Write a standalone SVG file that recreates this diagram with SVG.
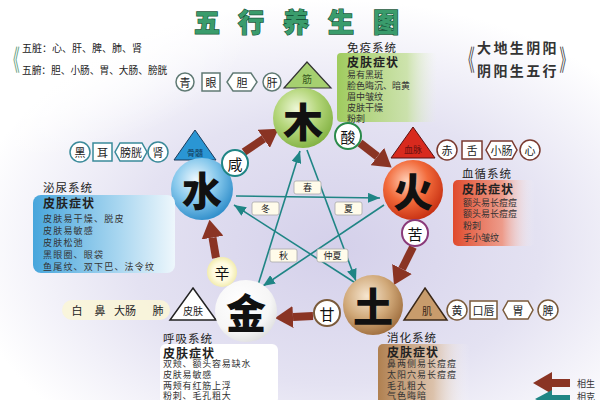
<svg xmlns="http://www.w3.org/2000/svg" width="600" height="400" viewBox="0 0 600 400">
<defs>
<radialGradient id="bg" cx="0.56" cy="0.62" r="0.62">
<stop offset="0" stop-color="#d4d0ea"/><stop offset="0.55" stop-color="#e4e2f2"/><stop offset="1" stop-color="#ffffff"/>
</radialGradient>
<radialGradient id="gMu" cx="0.4" cy="0.35" r="0.7"><stop offset="0" stop-color="#eef7d8"/><stop offset="0.5" stop-color="#b4d67a"/><stop offset="1" stop-color="#80b040"/></radialGradient>
<radialGradient id="gHuo" cx="0.4" cy="0.35" r="0.7"><stop offset="0" stop-color="#ffd0b8"/><stop offset="0.5" stop-color="#f26a3a"/><stop offset="1" stop-color="#c42c10"/></radialGradient>
<radialGradient id="gTu" cx="0.4" cy="0.35" r="0.7"><stop offset="0" stop-color="#f6e6d0"/><stop offset="0.55" stop-color="#d0a878"/><stop offset="1" stop-color="#9c6a3a"/></radialGradient>
<radialGradient id="gJin" cx="0.4" cy="0.35" r="0.7"><stop offset="0" stop-color="#ffffff"/><stop offset="0.7" stop-color="#f6f6f6"/><stop offset="1" stop-color="#dedede"/></radialGradient>
<radialGradient id="gShui" cx="0.4" cy="0.35" r="0.7"><stop offset="0" stop-color="#eef8fe"/><stop offset="0.5" stop-color="#86c8ec"/><stop offset="1" stop-color="#2a8ac8"/></radialGradient>
<radialGradient id="gXin" cx="0.5" cy="0.5" r="0.5"><stop offset="0.6" stop-color="#fffbe0"/><stop offset="1" stop-color="#f2ecb0"/></radialGradient>
<radialGradient id="wTL" cx="0" cy="0" r="1"><stop offset="0" stop-color="#fff"/><stop offset="0.6" stop-color="#fff" stop-opacity="0.8"/><stop offset="1" stop-color="#fff" stop-opacity="0"/></radialGradient>
<linearGradient id="bMu" x1="0" x2="1"><stop offset="0" stop-color="#9fcb5e"/><stop offset="0.7" stop-color="#c4e09a" stop-opacity="0.8"/><stop offset="1" stop-color="#e8f2d8" stop-opacity="0"/></linearGradient>
<linearGradient id="bHuo" x1="0" x2="1"><stop offset="0" stop-color="#e04a2c"/><stop offset="0.6" stop-color="#f08a70" stop-opacity="0.8"/><stop offset="1" stop-color="#ffffff" stop-opacity="0"/></linearGradient>
<linearGradient id="bShui" x1="0" x2="1"><stop offset="0" stop-color="#48a6dc"/><stop offset="0.6" stop-color="#a8d6f0"/><stop offset="1" stop-color="#eef7fc"/></linearGradient>
<linearGradient id="bTu" x1="0" x2="1"><stop offset="0" stop-color="#b08050"/><stop offset="0.6" stop-color="#d8b898" stop-opacity="0.8"/><stop offset="1" stop-color="#ffffff" stop-opacity="0"/></linearGradient>
<marker id="mB" markerUnits="userSpaceOnUse" viewBox="0 0 18 22" markerWidth="18" markerHeight="22" refX="0" refY="11" orient="auto"><path d="M0,0 L18,11 L0,22 z" fill="#8a3424"/></marker>
<marker id="mT" markerUnits="userSpaceOnUse" viewBox="0 0 12 10" markerWidth="12" markerHeight="10" refX="12" refY="5" orient="auto"><path d="M0,0 L12,5 L0,10 z" fill="#1f8585"/></marker>
<style>
text{font-family:'Noto Sans CJK SC','Noto Sans CJK TC',sans-serif;dominant-baseline:central}
.big{font-size:40px;font-weight:900;text-anchor:middle;fill:#111}
.c{text-anchor:middle}
.lb{font-size:11px;text-anchor:middle;fill:#222}
.sys{font-size:11.5px;fill:#222}
.hd{font-size:12px;font-weight:700;fill:#222}
.dt{font-size:9px;fill:#333}
.season rect{fill:#fffbea;stroke:#aaa;stroke-width:0.8}
.season text{font-size:9px;text-anchor:middle;fill:#222}
.sg{fill:none;stroke:#8a3424;stroke-width:8;marker-end:url(#mB)}
.kc{fill:none;stroke:#1f8585;stroke-width:1.6;marker-end:url(#mT)}
.taste{fill:#fff;stroke-width:2}
</style>
</defs>
<rect width="600" height="400" fill="#fff"/>
<rect width="600" height="400" fill="url(#bg)"/>
<rect x="0" y="0" width="260" height="160" fill="url(#wTL)"/>

<g id="title">
<text x="207 251 296 341 386" y="20" class="c" font-size="26" font-weight="900" fill="#3a9c6c" stroke="#17573a" stroke-width="1.3" paint-order="stroke">五行养生图</text>
</g>
<g id="note-left">
<text x="13" y="58" font-size="22" class="c" fill="#5a9a7a" transform="translate(13 58) scale(0.6 1.3) translate(-13 -58)">《</text>
<text x="22" y="47" font-size="10" fill="#222">五脏：心、肝、脾、肺、肾</text>
<text x="22" y="70" font-size="9.7" fill="#222">五腑：胆、小肠、胃、大肠、膀胱</text>
</g>
<g id="note-right">
<text x="468" y="58" font-size="22" class="c" fill="#444" transform="translate(468 58) scale(0.6 1.3) translate(-468 -58)">《</text>
<text x="477" y="47" font-size="14" font-weight="700" fill="#333" letter-spacing="2.4">大地生阴阳</text>
<text x="477" y="70" font-size="14" font-weight="700" fill="#333" letter-spacing="2.4">阴阳生五行</text>
<text x="566" y="58" font-size="22" class="c" fill="#444" transform="translate(566 58) scale(0.6 1.3) translate(-566 -58)">》</text>
</g>

<g id="connectors">
<path class="kc" d="M236,196 L380,198"/>
<path class="kc" d="M384,205 L263,286"/>
<path class="kc" d="M258,285 L300,151"/>
<path class="kc" d="M307,150 L356,281"/>
<path class="kc" d="M357,284 L234,205"/>
<path class="sg" d="M244,152 L263.7,138.8"/>
<path class="sg" d="M360,143 L377.4,156.5"/>
<path class="sg" d="M413,247 L402,269"/>
<path class="sg" d="M313,316 L293,317"/>
<path class="sg" d="M216,258 L212.5,237.6"/>
</g>

<g id="seasons" class="season">
<rect x="294" y="181" width="27" height="13" rx="2"/><text x="307.5" y="187.5">春</text>
<rect x="252" y="202" width="27" height="13" rx="2"/><text x="265.5" y="208.5">冬</text>
<rect x="335" y="202" width="27" height="13" rx="2"/><text x="348.5" y="208.5">夏</text>
<rect x="270" y="249" width="27" height="13" rx="2"/><text x="283.5" y="255.5">秋</text>
<rect x="317" y="249" width="31" height="13" rx="2"/><text x="332.5" y="255.5">仲夏</text>
</g>

<g id="node-mu">
<path d="M307,62 L331,88 L284,88 Z" fill="#a6d070" stroke="#333" stroke-width="1.2"/>
<text x="307" y="78" font-size="10" class="c" fill="#3a5a20">筋</text>
<circle cx="303" cy="118" r="30" fill="url(#gMu)"/>
<text x="303" y="120" class="big">木</text>
<g stroke="#607a74" stroke-width="1.5" fill="#fff">
<circle cx="185" cy="82" r="9"/>
<rect x="202" y="73" width="18" height="18"/>
<path d="M233,73 L251,73 L257,82 L251,91 L233,91 L227,82 Z"/>
<circle cx="272" cy="82" r="9"/>
</g>
<text x="185" y="82" class="lb">青</text><text x="211" y="82" class="lb">眼</text><text x="242" y="82" class="lb">胆</text><text x="272" y="82" class="lb">肝</text>
<rect x="337" y="53" width="100" height="69" rx="4" fill="url(#bMu)"/>
<text x="347" y="47" class="sys" letter-spacing="1">免疫系统</text>
<text x="347" y="61" class="hd" letter-spacing="1">皮肤症状</text>
<text x="347" y="74" class="dt">易有黑斑</text>
<text x="347" y="85" class="dt">脸色晦沉、暗黄</text>
<text x="347" y="96" class="dt">眉中皱纹</text>
<text x="347" y="107" class="dt">皮肤干燥</text>
<text x="347" y="118" class="dt">粉刺</text>
<circle cx="348" cy="136" r="13" class="taste" stroke="#2a8a4a"/>
<text x="348" y="136" font-size="15" class="c" fill="#111">酸</text>
</g>

<g id="node-huo">
<path d="M413,127 L435,158 L391,158 Z" fill="#d82a1e" stroke="#5a1010" stroke-width="1"/>
<text x="413" y="149" font-size="9" class="c" fill="#6a1010">血脉</text>
<circle cx="413" cy="190" r="30" fill="url(#gHuo)"/>
<text x="413" y="190" class="big">火</text>
<g stroke="#7a3a30" stroke-width="1.5" fill="#fff">
<circle cx="447" cy="150" r="10"/>
<rect x="462" y="141" width="20" height="18"/>
<path d="M491,141 L512,141 L517,150 L512,159 L491,159 L486,150 Z"/>
<circle cx="530" cy="150" r="10"/>
</g>
<text x="447" y="150" class="lb">赤</text><text x="472" y="150" class="lb">舌</text><text x="501.5" y="150" class="lb">小肠</text><text x="530" y="150" class="lb">心</text>
<rect x="453" y="180" width="82" height="66" rx="5" fill="url(#bHuo)"/>
<text x="462" y="173" class="sys" letter-spacing="1">血循系统</text>
<text x="462" y="188" class="hd" letter-spacing="1">皮肤症状</text>
<text x="463" y="202" class="dt" fill="#7a2a20">额头易长痘痘</text>
<text x="463" y="213" class="dt" fill="#7a2a20">额头易长痘痘</text>
<text x="463" y="225" class="dt" fill="#7a2a20">粉刺</text>
<text x="463" y="237" class="dt" fill="#7a2a20">手小皱纹</text>
<circle cx="415" cy="233" r="13" class="taste" stroke="#8a3a7a"/>
<text x="415" y="233" font-size="15" class="c" fill="#111">苦</text>
</g>

<g id="node-shui">
<path d="M195,130 L216,160 L174,160 Z" fill="#2a96d4" stroke="#1a3a5a" stroke-width="1"/>
<text x="195" y="152" font-size="8" class="c" fill="#123a5a">骨髓</text>
<circle cx="202" cy="189" r="31" fill="url(#gShui)"/>
<text x="202" y="189" class="big">水</text>
<g stroke="#3a8a9a" stroke-width="1.5" fill="#fff">
<circle cx="80" cy="152" r="10"/>
<rect x="93" y="143" width="19" height="18"/>
<path d="M120,143 L142,143 L147,152 L142,161 L120,161 L115,152 Z"/>
<circle cx="158" cy="152" r="10"/>
</g>
<text x="80" y="152" class="lb">黑</text><text x="102.5" y="152" class="lb">耳</text><text x="131" y="152" class="lb">膀胱</text><text x="158" y="152" class="lb">肾</text>
<rect x="33" y="195" width="142" height="78" rx="8" fill="url(#bShui)"/>
<text x="43" y="187" class="sys" letter-spacing="1">泌尿系统</text>
<text x="43" y="202" class="hd" letter-spacing="1">皮肤症状</text>
<text x="43" y="218" class="dt" letter-spacing="1.2">皮肤易干燥、脱皮</text>
<text x="43" y="230" class="dt" letter-spacing="1.2">皮肤易敏感</text>
<text x="43" y="242" class="dt" letter-spacing="1.2">皮肤松弛</text>
<text x="43" y="254" class="dt" letter-spacing="1.2">黑眼圈、眼袋</text>
<text x="43" y="266" class="dt" letter-spacing="1.2">鱼尾纹、双下巴、法令纹</text>
<circle cx="235" cy="163" r="13" class="taste" stroke="#1f8585"/>
<text x="235" y="163" font-size="15" class="c" fill="#111">咸</text>
</g>

<g id="node-jin">
<path d="M193,288 L216,320 L170,320 Z" fill="#fff" stroke="#222" stroke-width="1.5"/>
<text x="193" y="310" font-size="10" class="c" fill="#222">皮肤</text>
<circle cx="246" cy="311" r="31" fill="url(#gJin)"/>
<text x="246" y="311" class="big">金</text>
<rect x="62" y="300" width="108" height="20" rx="10" fill="#faf5d8" opacity="0.9"/>
<text x="77" y="310" class="lb">白</text><text x="100" y="310" class="lb">鼻</text><text x="125" y="310" class="lb">大肠</text><text x="158" y="310" class="lb">肺</text>
<rect x="160" y="344" width="118" height="60" rx="6" fill="#fff"/>
<text x="163" y="338" class="sys" letter-spacing="1">呼吸系统</text>
<text x="163" y="352" class="hd" letter-spacing="1">皮肤症状</text>
<text x="163" y="363" class="dt" letter-spacing="0.8">双颊、额头容易缺水</text>
<text x="163" y="374" class="dt" letter-spacing="0.8">皮肤易敏感</text>
<text x="163" y="385" class="dt" letter-spacing="0.8">两颊有红筋上浮</text>
<text x="163" y="395" class="dt" letter-spacing="0.8">粉刺、毛孔粗大</text>
<circle cx="222" cy="272" r="15" fill="url(#gXin)"/>
<text x="222" y="272" font-size="15" class="c" fill="#111">辛</text>
</g>

<g id="node-tu">
<path d="M425,288 L447,320 L404,320 Z" fill="#c89c6c" stroke="#3a2818" stroke-width="1.5"/>
<text x="427" y="310" font-size="10" class="c" fill="#3a2818">肌</text>
<circle cx="373" cy="305" r="30" fill="url(#gTu)"/>
<text x="373" y="305" class="big">土</text>
<g stroke="#7a5a3a" stroke-width="1.5" fill="#fff">
<circle cx="457" cy="310" r="10"/>
<rect x="470" y="301" width="27" height="18"/>
<path d="M508,301 L528,301 L533,310 L528,319 L508,319 L503,310 Z"/>
<circle cx="548" cy="310" r="10"/>
</g>
<text x="457" y="310" class="lb">黄</text><text x="483.5" y="310" class="lb">口唇</text><text x="518" y="310" class="lb">胃</text><text x="548" y="310" class="lb">脾</text>
<rect x="378" y="344" width="92" height="60" rx="5" fill="url(#bTu)"/>
<text x="387" y="337" class="sys" letter-spacing="1">消化系统</text>
<text x="387" y="351" class="hd" letter-spacing="1">皮肤症状</text>
<text x="387" y="363" class="dt" letter-spacing="1">鼻两侧易长痘痘</text>
<text x="387" y="374" class="dt" letter-spacing="1">太阳穴易长痘痘</text>
<text x="387" y="385" class="dt" letter-spacing="1">毛孔粗大</text>
<text x="387" y="395" class="dt" letter-spacing="1">气色晦暗</text>
<circle cx="327" cy="313" r="13" class="taste" stroke="#7a5a3a"/>
<text x="327" y="313" font-size="15" class="c" fill="#111">甘</text>
</g>

<g id="legend">
<path d="M570,383 L552,383" stroke="#8a3424" stroke-width="8" fill="none"/>
<path d="M552,372 L533,383 L552,394 Z" fill="#8a3424"/>
<text x="577" y="383" font-size="9" fill="#333">相生</text>
<path d="M570,399 L552,399" stroke="#1f8585" stroke-width="8" fill="none"/>
<path d="M552,390 L535,399 L552,408 Z" fill="#1f8585"/>
<text x="577" y="396" font-size="9" fill="#333">相克</text>
</g>
</svg>
